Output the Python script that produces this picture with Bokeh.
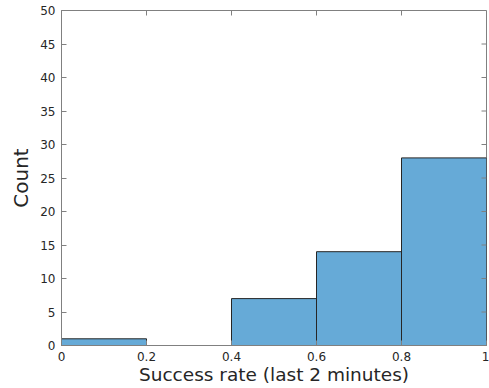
import math
from bokeh.plotting import figure
from bokeh.models import LinearAxis, FixedTicker, Range1d
from bokeh.embed import file_html
from bokeh.resources import INLINE

edges = [0.0, 0.2, 0.4, 0.6, 0.8, 1.0]
counts = [1, 0, 7, 14, 28]
x_ticks = [0, 0.2, 0.4, 0.6, 0.8, 1]
x_tick_labels = ["0", "0.2", "0.4", "0.6", "0.8", "1"]
y_ticks = [0, 5, 10, 15, 20, 25, 30, 35, 40, 45, 50]
x_lim = (0, 1)
y_lim = (0, 50)

p = figure(width=489, height=388, output_backend="svg", toolbar_location=None,
           x_range=Range1d(*x_lim), y_range=Range1d(*y_lim),
           x_axis_location=None, y_axis_location=None,
           min_border_left=61, min_border_right=3, min_border_top=10, min_border_bottom=43)
p.grid.visible = False
p.outline_line_color = "#808080"
p.background_fill_color = "white"
p.border_fill_color = "white"

p.quad(left=edges[:-1], right=edges[1:], bottom=0, top=counts,
       fill_color="#66AAD7", line_color="#262626", line_width=1)

axis_color = "#808080"
label_color = "#262626"
FONT = "DejaVu Sans"

# inward ticks on the right and top edges (box on)
p.ray(x=[x_lim[1]] * len(y_ticks), y=y_ticks, length=5, length_units="screen",
      angle=math.pi, line_color=axis_color, line_width=1)
p.ray(x=x_ticks, y=[y_lim[1]] * len(x_ticks), length=5, length_units="screen",
      angle=-math.pi / 2, line_color=axis_color, line_width=1)

def style(ax):
    ax.axis_line_color = axis_color
    ax.major_tick_line_color = axis_color
    ax.major_tick_in = 5
    ax.major_tick_out = 0
    ax.minor_tick_line_color = None
    ax.major_label_text_font = FONT
    ax.major_label_text_color = label_color
    ax.major_label_text_font_size = "12px"

bx = LinearAxis(ticker=FixedTicker(ticks=x_ticks),
                major_label_overrides={t: l for t, l in zip(x_ticks, x_tick_labels)})
style(bx)
bx.major_label_standoff = 6
bx.axis_label = "Success rate (last 2 minutes)"
bx.axis_label_text_font = FONT
bx.axis_label_text_font_size = "18.5px"
bx.axis_label_text_font_style = "normal"
bx.axis_label_text_color = label_color
bx.axis_label_standoff = 0
p.add_layout(bx, "below")

ly = LinearAxis(ticker=FixedTicker(ticks=y_ticks))
style(ly)
ly.major_label_standoff = 6
ly.axis_label = "Count"
ly.axis_label_text_font = FONT
ly.axis_label_text_font_size = "20px"
ly.axis_label_text_font_style = "normal"
ly.axis_label_text_color = label_color
ly.axis_label_standoff = 4
p.add_layout(ly, "left")

open("out.html", "w").write(file_html(p, INLINE))
